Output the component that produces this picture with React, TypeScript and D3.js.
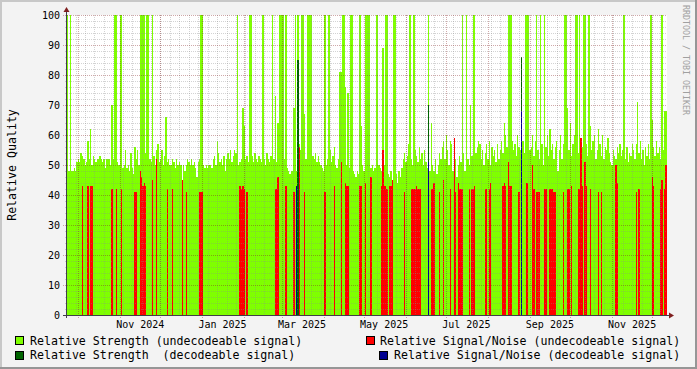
import React from "react";
import * as d3 from "d3";

const W = 697;
const H = 369;
const DAY = 86400000;

// time window of the graph
const startDate = new Date(2024, 8, 22, 14, 38);
const spanDays = 445.3;

// Relative Strength (undecodeable signal), one value per day from startDate
const strength = [
  100, 48, 100, 48, 48, 49, 48, 51, 52, 51,
  54, 53, 52, 50, 51, 58, 52, 62, 50, 53,
  52, 51, 52, 52, 53, 52, 51, 52, 49, 52,
  52, 52, 50, 70, 52, 100, 100, 51, 50, 100,
  100, 49, 50, 55, 49, 50, 48, 54, 49, 47,
  56, 52, 55, 50, 100, 100, 100, 100, 54, 100,
  100, 52, 51, 100, 53, 50, 55, 57, 51, 52,
  55, 50, 53, 66, 51, 52, 50, 50, 52, 51,
  49, 52, 50, 51, 50, 45, 50, 48, 50, 52,
  51, 50, 52, 50, 51, 49, 46, 51, 52, 100,
  100, 50, 49, 50, 49, 50, 50, 49, 52, 53,
  50, 58, 54, 51, 52, 50, 53, 48, 52, 54,
  52, 55, 51, 53, 55, 54, 100, 50, 51, 52,
  69, 63, 52, 53, 51, 100, 100, 53, 51, 54,
  52, 51, 53, 52, 51, 100, 52, 50, 54, 52,
  51, 53, 100, 52, 73, 51, 64, 100, 100, 100,
  100, 52, 100, 49, 48, 47, 48, 48, 69, 100,
  48, 100, 57, 55, 100, 100, 67, 52, 100, 100,
  100, 100, 53, 52, 54, 51, 53, 51, 50, 49,
  48, 100, 50, 52, 100, 55, 51, 53, 56, 50,
  49, 52, 81, 81, 100, 100, 76, 50, 74, 49,
  100, 100, 48, 47, 46, 48, 47, 100, 63, 50,
  48, 100, 100, 100, 100, 49, 50, 48, 49, 100,
  100, 50, 49, 48, 89, 50, 100, 100, 47, 46,
  48, 45, 100, 100, 47, 44, 48, 46, 49, 52,
  54, 51, 53, 57, 100, 52, 50, 100, 55, 53,
  51, 56, 52, 54, 50, 55, 51, 49, 100, 48,
  64, 50, 48, 52, 47, 50, 54, 52, 56, 58,
  52, 60, 55, 50, 58, 57, 48, 59, 52, 46,
  50, 53, 51, 100, 54, 48, 100, 52, 50, 70,
  53, 100, 100, 54, 56, 58, 57, 52, 55, 50,
  54, 57, 52, 58, 50, 56, 53, 55, 51, 57,
  52, 55, 58, 54, 64, 60, 56, 100, 100, 100,
  58, 55, 57, 53, 60, 56, 55, 52, 58, 54,
  100, 100, 100, 55, 56, 60, 53, 58, 100, 55,
  52, 100, 57, 50, 100, 56, 60, 53, 62, 55,
  57, 52, 56, 58, 48, 55, 60, 52, 57, 100,
  100, 69, 55, 64, 53, 57, 60, 100, 100, 54,
  100, 58, 56, 100, 100, 57, 53, 100, 63, 55,
  58, 60, 52, 55, 62, 57, 53, 60, 52, 56,
  55, 59, 54, 51, 50, 55, 53, 52, 56, 54,
  57, 53, 55, 100, 52, 56, 51, 54, 53, 57,
  55, 52, 57, 71, 54, 58, 52, 55, 50, 56,
  53, 57, 52, 100, 65, 56, 53, 58, 54, 56,
  52, 100, 55, 68, 68,
];

// Relative Signal/Noise (undecodeable signal): day offsets and values
const snrDays = [
  11, 15, 17, 18, 33, 36, 40, 50, 51, 54, 55, 56, 57, 58, 63, 66, 74, 78, 85, 88, 98, 99, 100,
  128, 129, 130, 131, 133, 154, 155, 156, 162, 168, 172, 176, 191, 198, 203, 206, 207, 208,
  217, 218, 221, 225, 233, 234, 235, 236, 237, 239, 240, 241, 250, 255, 256, 257, 258, 259,
  260, 261, 262, 270, 271, 272, 276, 279, 284, 287, 288, 290, 291, 292, 293,
  298, 300, 301, 302, 310, 311, 313, 314, 323, 324, 325, 327, 328, 329, 335, 341, 345, 346,
  348, 349, 350, 354, 355, 358, 359, 360, 361, 362, 368, 371, 372, 374, 379, 380, 381, 382,
  384, 385, 388, 394, 396, 407, 408, 422, 424, 434, 435, 440, 441, 443, 444,
];
const snrVals = [
  43, 43, 43, 43, 42, 42, 42, 41, 41, 48, 46, 43, 44, 43, 45, 52, 42, 42, 45, 41, 41, 41, 41,
  43, 42, 43, 42, 41, 42, 42, 46, 43, 41, 56, 41, 41, 43, 51, 44, 43, 43,
  43, 43, 44, 46, 43, 55, 43, 43, 42, 43, 43, 45, 41, 42, 42, 42, 42, 43,
  42, 42, 42, 42, 42, 44, 41, 45, 42, 59, 41, 44, 42, 42, 42,
  42, 42, 42, 43, 42, 42, 42, 44, 43, 44, 43, 51, 43, 43, 41, 44, 50, 42,
  41, 41, 41, 42, 42, 42, 42, 42, 41, 41, 41, 42, 42, 43, 42, 42, 59, 43,
  51, 43, 42, 41, 41, 50, 44, 41, 42, 46, 43, 42, 45, 42, 50,
];

// Relative Strength (decodeable signal)
const decStrengthDays = [171, 268, 337];
const decStrengthVals = [85, 70, 86];

// Relative Signal/Noise (decodeable signal)
const decSnrDays = [170, 268, 337];
const decSnrVals = [43, 51, 68];

const yTicks = [0, 10, 20, 30, 40, 50, 60, 70, 80, 90, 100];
const monthLabels = ["Nov 2024", "Jan 2025", "Mar 2025", "May 2025", "Jul 2025", "Sep 2025", "Nov 2025"];
const monthLabelDates = [
  new Date(2024, 10, 1), new Date(2025, 0, 1), new Date(2025, 2, 1), new Date(2025, 4, 1),
  new Date(2025, 6, 1), new Date(2025, 8, 1), new Date(2025, 10, 1),
];

const C_LGREEN = "#7FFF00";
const C_RED = "#FF0000";
const C_DGREEN = "#006400";
const C_BLUE = "#000090";
const MONO = "'DejaVu Sans Mono', monospace";

export default function App() {
  const endDate = new Date(startDate.getTime() + spanDays * DAY);
  const x = d3.scaleTime().domain([startDate, endDate]).range([67, 667]);
  const y = d3.scaleLinear().domain([0, 100]).range([315, 15]);

  const dayX = (i: number) => Math.round(x(new Date(startDate.getTime() + i * DAY)));
  const bar = (i: number, v: number, color: string, key: string) => {
    const x0 = dayX(i);
    const x1 = Math.min(667, dayX(i + 1));
    const yt = Math.round(y(v));
    return <rect key={key} x={x0} y={yt} width={Math.max(1, x1 - x0)} height={315 - yt} fill={color} />;
  };

  const weeks = d3.timeWeek.range(startDate, endDate);
  const months = d3.timeMonth.range(startDate, endDate);
  const minorY = d3.range(2, 100, 2).filter((v) => v % 10 !== 0);

  return (
    <svg width={W} height={H} style={{ display: "block", position: "absolute", left: 0, top: 0 }}>
      <rect x={0} y={0} width={W} height={H} fill="#F3F3F3" />
      {/* shade border */}
      <rect x={0} y={0} width={W} height={2} fill="#C8C8C8" />
      <rect x={0} y={0} width={2} height={H} fill="#C8C8C8" />
      <rect x={0} y={H - 2} width={W} height={2} fill="#969696" />
      <rect x={W - 2} y={0} width={2} height={H} fill="#969696" />
      {/* canvas */}
      <rect x={67} y={15} width={600} height={300} fill="#FFFFFF" />

      <g shapeRendering="crispEdges">
        {strength.map((v, i) => bar(i, v, C_LGREEN, "g" + i))}
        {snrDays.map((d, k) => bar(d, snrVals[k], C_RED, "r" + k))}
        {decStrengthDays.map((d, k) => bar(d, decStrengthVals[k], C_DGREEN, "dg" + k))}
        {decSnrDays.map((d, k) => bar(d, decSnrVals[k], C_BLUE, "b" + k))}
      </g>

      {/* grid */}
      <g shapeRendering="crispEdges" strokeDasharray="1,1">
        {minorY.map((v) => (
          <line key={"my" + v} x1={65} x2={667} y1={y(v) + 0.5} y2={y(v) + 0.5} stroke="#8C8C8C" strokeOpacity={0.38} />
        ))}
        {weeks.map((d, k) => (
          <line key={"mx" + k} x1={Math.round(x(d)) + 0.5} x2={Math.round(x(d)) + 0.5} y1={15} y2={317} stroke="#8C8C8C" strokeOpacity={0.38} />
        ))}
        {yTicks.map((v) => (
          <line key={"My" + v} x1={63} x2={667} y1={y(v) + 0.5} y2={y(v) + 0.5} stroke="#821E1E" strokeOpacity={0.38} />
        ))}
        {months.map((d, k) => (
          <line key={"Mx" + k} x1={Math.round(x(d)) + 0.5} x2={Math.round(x(d)) + 0.5} y1={15} y2={319} stroke="#821E1E" strokeOpacity={0.38} />
        ))}
      </g>

      {/* axes */}
      <g shapeRendering="crispEdges">
        <line x1={63} x2={670} y1={315.5} y2={315.5} stroke="#404048" />
        <line x1={66.5} x2={66.5} y1={12} y2={318} stroke="#404048" />
      </g>
      <path d="M669,312.5 L674,315.5 L669,318.5 Z" fill="#7F1F1F" />
      <path d="M63.5,12 L66.5,7 L69.5,12 Z" fill="#7F1F1F" />

      {/* y tick labels */}
      {yTicks.map((v) => (
        <text key={"yl" + v} x={60} y={y(v) + 3.6} textAnchor="end" fontFamily={MONO} fontSize={10} fill="#000">
          {v}
        </text>
      ))}
      {/* x tick labels */}
      {monthLabelDates.map((d, k) => (
        <text key={"xl" + k} x={x(new Date(d.getTime() + 15 * DAY))} y={328} textAnchor="middle" fontFamily={MONO} fontSize={10} fill="#000">
          {monthLabels[k]}
        </text>
      ))}

      {/* y axis title */}
      <text transform="translate(15.5,165) rotate(-90)" textAnchor="middle" fontFamily={MONO} fontSize={11.6} fill="#000">
        Relative Quality
      </text>

      {/* watermark */}
      <text transform="translate(683,5) rotate(90)" textAnchor="start" fontFamily={MONO} fontSize={8.3} fill="#A0A0A0">
        RRDTOOL / TOBI OETIKER
      </text>

      {/* legend */}
      <g fontFamily={MONO} fontSize={11.6} fill="#000">
        <rect x={15.5} y={336.5} width={8} height={8} fill={C_LGREEN} stroke="#000" />
        <text x={30} y={345} xmlSpace="preserve">Relative Strength (undecodeable signal)</text>
        <rect x={366.5} y={336.5} width={8} height={8} fill={C_RED} stroke="#000" />
        <text x={380} y={345} xmlSpace="preserve">Relative Signal/Noise (undecodeable signal)</text>
        <rect x={15.5} y={351.5} width={8} height={8} fill={C_DGREEN} stroke="#000" />
        <text x={30} y={359} style={{ whiteSpace: "pre" }}>Relative Strength  (decodeable signal)</text>
        <rect x={379.5} y={351.5} width={8} height={8} fill={C_BLUE} stroke="#000" />
        <text x={394} y={359} xmlSpace="preserve">Relative Signal/Noise (decodeable signal)</text>
      </g>
    </svg>
  );
}
